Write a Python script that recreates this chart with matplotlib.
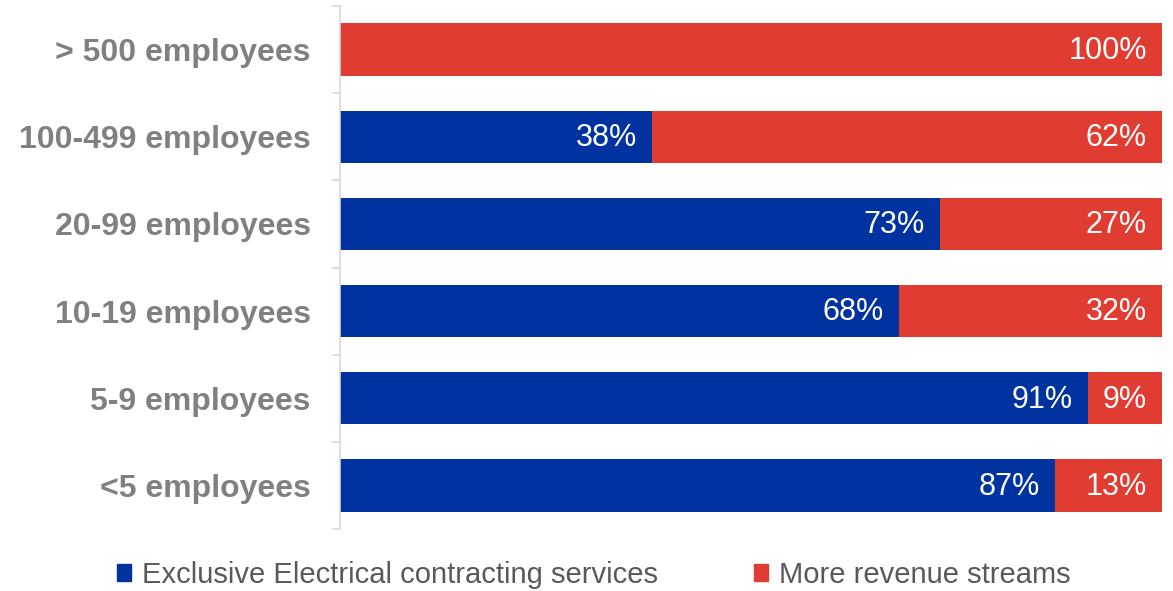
import numpy as np
import matplotlib.pyplot as plt
from matplotlib.patches import Patch

# data, bottom to top
categories = ["<5 employees", "5-9 employees", "10-19 employees",
              "20-99 employees", "100-499 employees", "> 500 employees"]
exclusive = [87, 91, 68, 73, 38, 0]
more_streams = [13, 9, 32, 27, 62, 100]
series_names = ["Exclusive Electrical contracting services", "More revenue streams"]

BLUE = "#0033A0"
RED = "#E03C31"

plt.rcParams['font.family'] = ['Liberation Sans', 'DejaVu Sans']

fig = plt.figure(figsize=(11.73, 5.91), dpi=100)
ax = fig.add_axes([340 / 1173, 1 - 529 / 591, (1162 - 340) / 1173, (529 - 6) / 591])

y = np.arange(len(categories))
ax.barh(y, exclusive, height=0.6, color=BLUE)
ax.barh(y, more_streams, left=exclusive, height=0.6, color=RED)

# value labels, right aligned inside each segment
for i in range(len(categories)):
    if exclusive[i] > 0:
        ax.annotate(f"{exclusive[i]}%", (exclusive[i], y[i]), xytext=(-11, -1),
                    textcoords="offset points", ha="right", va="center",
                    color="white", fontsize=22)
    if more_streams[i] > 0:
        ax.annotate(f"{more_streams[i]}%", (exclusive[i] + more_streams[i], y[i]),
                    xytext=(-11, -1), textcoords="offset points", ha="right",
                    va="center", color="white", fontsize=22)

ax.set_xlim(0, 100)
ax.set_ylim(-0.5, len(categories) - 0.5)
ax.set_yticks(y)
ax.set_yticklabels(categories, fontsize=23, fontweight="bold", color="#808080")
ax.set_yticks(np.arange(-0.5, len(categories)), minor=True)
ax.tick_params(axis="y", which="major", length=0, pad=21)
ax.tick_params(axis="y", which="minor", length=6, color="#D9D9D9", width=1.2)
ax.set_xticks([])
for s in ["top", "right", "bottom"]:
    ax.spines[s].set_visible(False)
ax.spines["left"].set_color("#D9D9D9")
ax.spines["left"].set_linewidth(1.2)

handles = [Patch(color=BLUE), Patch(color=RED)]
fig.legend(handles, series_names, loc="center", bbox_to_anchor=(0.506, 1 - 575 / 591),
           ncol=2, frameon=False, fontsize=21, labelcolor="#595959",
           handlelength=0.5, handleheight=0.5, handletextpad=0.35,
           columnspacing=3.3, borderaxespad=0)

fig.savefig("out.png", dpi=100)
